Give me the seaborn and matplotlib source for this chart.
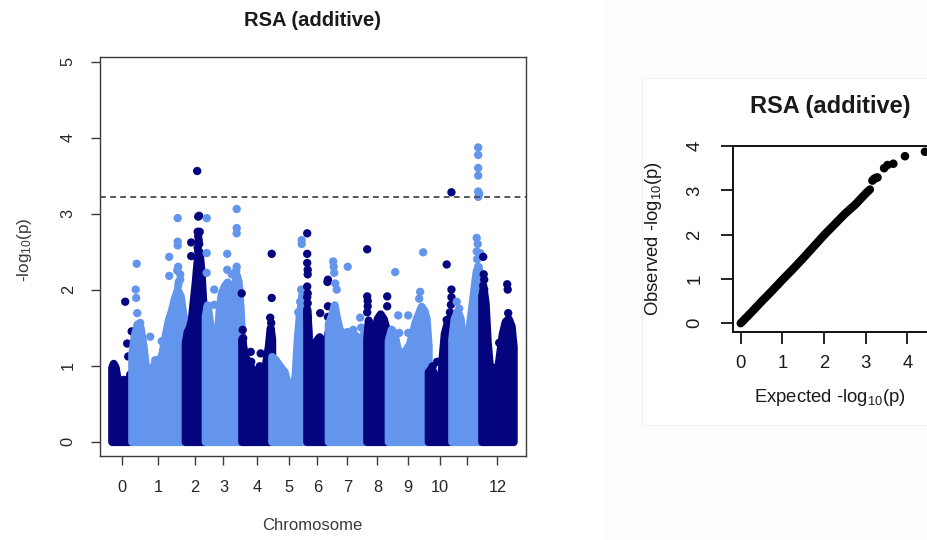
import numpy as np
import pandas as pd
import matplotlib
matplotlib.use("Agg")
import matplotlib.pyplot as plt
from matplotlib.patches import Rectangle
import seaborn as sns

sns.set_theme(style="white")
plt.rcParams["font.family"] = ["Liberation Sans", "DejaVu Sans"]
plt.rcParams["mathtext.fontset"] = "custom"
plt.rcParams["mathtext.rm"] = "Liberation Sans"
plt.rcParams["mathtext.it"] = "Liberation Sans:italic"
plt.rcParams["mathtext.bf"] = "Liberation Sans:bold"

# ---------------------------------------------------------------- data
TITLE = "RSA (additive)"
CHROMOSOMES = list(range(13))
CHROM_LABELS = ["0", "1", "2", "3", "4", "5", "6", "7", "8", "9", "10", "", "12"]
CHROM_LENGTH_MB = [40, 107, 40, 73, 60, 70, 43, 77, 43, 80, 47, 60, 63]
THRESHOLD = 3.22

# upper edge of the dense SNP cloud on each chromosome (position in Mb, -log10 p)
BAND_POS_MB = [
    [0, 3, 7, 11, 15, 19, 23, 27, 31, 35, 40],
    [0, 5, 11, 17, 23, 29, 33, 37, 43, 49, 55, 61, 67, 73, 79, 85, 91, 97, 103, 107],
    [0, 4, 8, 12, 16, 20, 24, 28, 32, 36, 40],
    [0, 4, 8, 12, 16, 20, 24, 28, 32, 38, 44, 50, 56, 62, 66, 70, 73],
    [0, 5, 11, 17, 23, 29, 35, 41, 47, 53, 57, 60],
    [0, 7, 13, 19, 25, 31, 37, 43, 47, 51, 55, 59, 63, 67, 70],
    [0, 3, 6, 9, 12, 15, 19, 25, 31, 37, 41, 43],
    [0, 6, 12, 16, 22, 30, 38, 46, 54, 62, 68, 74, 77],
    [0, 3, 7, 11, 15, 21, 27, 33, 39, 43],
    [0, 6, 12, 18, 24, 30, 36, 42, 48, 54, 60, 66, 72, 76, 80],
    [0, 6, 12, 18, 24, 28, 32, 36, 40, 44, 47],
    [0, 5, 11, 17, 21, 25, 29, 33, 37, 41, 45, 49, 53, 57, 60],
    [0, 3, 7, 11, 15, 21, 27, 33, 37, 41, 47, 53, 59, 63],
]
BAND_LOGP = [
    [0.98, 1.03, 0.98, 0.82, 0.75, 0.8, 0.82, 0.78, 0.82, 0.77, 0.6],
    [1.15, 1.4, 1.55, 1.5, 1.25, 0.9, 0.75, 0.9, 1.0, 1.08, 1.05, 1.18, 1.4, 1.6, 1.72, 1.88, 2.0, 1.92, 1.65, 1.35],
    [1.3, 1.45, 1.5, 1.6, 1.85, 2.1, 2.4, 2.5, 2.2, 1.75, 1.4],
    [1.65, 1.8, 1.6, 1.4, 1.25, 1.2, 1.4, 1.75, 1.95, 2.05, 2.1, 2.0, 1.95, 2.2, 2.1, 1.75, 1.35],
    [1.35, 1.15, 1.05, 1.0, 0.9, 0.85, 1.0, 0.92, 1.0, 1.25, 1.5, 1.35],
    [1.12, 1.08, 1.02, 0.97, 0.92, 0.78, 0.68, 0.65, 0.9, 1.35, 1.65, 1.85, 1.9, 1.65, 1.35],
    [1.75, 1.45, 0.5, 0.35, 0.45, 1.15, 1.33, 1.38, 1.33, 1.28, 1.33, 1.45],
    [1.55, 1.65, 1.8, 1.65, 1.48, 1.42, 1.45, 1.42, 1.4, 1.33, 1.38, 1.48, 1.42],
    [1.35, 1.6, 1.5, 1.22, 1.42, 1.62, 1.68, 1.62, 1.48, 1.38],
    [1.33, 1.48, 1.42, 1.22, 1.18, 1.12, 1.22, 1.28, 1.42, 1.58, 1.68, 1.78, 1.72, 1.62, 1.25],
    [0.92, 0.97, 0.88, 0.82, 0.72, 1.12, 1.42, 1.52, 1.62, 1.58, 1.48],
    [1.35, 1.62, 1.72, 1.62, 1.32, 0.92, 1.12, 1.42, 1.62, 1.82, 2.05, 2.25, 2.3, 2.05, 1.55],
    [1.92, 2.02, 1.82, 1.32, 1.02, 0.97, 0.92, 1.02, 1.22, 1.42, 1.58, 1.62, 1.52, 1.25],
]

# individual SNPs standing above the cloud
SNP_POS_MB = [
    [27, 40, 31, 33, 37],
    [10, 8, 9, 11, 17, 37, 60, 47, 92, 92, 92, 75, 75, 93, 97, 97, 93, 91, 94],
    [24, 28, 26, 25, 29, 12, 12, 26, 28, 27, 25, 26, 28],
    [3, 3, 3, 18, 18, 63, 63, 63, 44, 44, 53, 63, 64, 62],
    [0, 2, 3, 5, 18, 19, 38, 60, 60, 57, 59, 57],
    [60, 60, 61, 57, 53, 59, 62],
    [1, 1, 2, 2, 1, 2, 27, 42.5, 42.5, 42.5, 41.5, 1, 2, 1],
    [10, 11, 12, 14, 17, 39, 50, 64, 66],
    [1, 1, 2, 1, 41, 41, 2],
    [14, 20, 40, 22, 40, 70, 64, 62],
    [9, 18, 37, 37, 46.5, 46.5, 46.5, 45.5, 43.5],
    [53, 53, 53, 53, 53, 55, 53, 50, 50, 57, 53, 10, 15, 51, 52],
    [3, 5, 5, 4, 51, 52, 53, 35, 4, 3],
]
SNP_LOGP = [
    [1.84, 1.45, 1.29, 1.12, 0.88],
    [2.34, 2.0, 1.89, 1.69, 1.56, 1.38, 1.32, 1.07, 2.94, 2.63, 2.58, 2.43, 2.18, 2.3, 2.2, 2.13, 2.05, 2.25, 2.1],
    [3.56, 2.97, 2.96, 2.76, 2.76, 2.62, 2.44, 2.5, 2.4, 2.65, 2.55, 2.7, 2.6],
    [2.94, 2.48, 2.22, 2.0, 1.8, 3.06, 2.81, 2.74, 2.47, 2.26, 2.2, 2.3, 2.15, 2.25],
    [1.95, 1.47, 1.36, 1.16, 1.18, 1.05, 1.16, 2.47, 1.89, 1.63, 1.56, 1.4],
    [2.65, 2.6, 1.91, 1.84, 1.7, 2.0, 1.95],
    [2.74, 2.47, 2.26, 2.2, 2.04, 1.82, 1.69, 2.13, 1.78, 1.64, 2.1, 2.35, 1.95, 1.9],
    [2.37, 2.3, 2.22, 2.08, 2.0, 2.3, 1.47, 1.63, 1.5],
    [2.53, 1.91, 1.85, 1.7, 1.91, 1.78, 1.78],
    [2.23, 1.66, 1.66, 1.43, 1.43, 2.49, 1.97, 1.88],
    [0.99, 1.05, 2.33, 1.6, 3.28, 2.0, 1.9, 1.8, 1.7],
    [3.87, 3.77, 3.6, 3.5, 3.29, 3.26, 3.22, 2.68, 2.5, 2.48, 2.3, 1.84, 1.75, 2.4, 2.6],
    [2.43, 2.13, 2.0, 1.95, 2.07, 2.0, 1.69, 1.3, 2.2, 2.05],
]

# Q-Q plot: dense diagonal and the separated upper tail
QQ_EXPECTED = [0.0, 0.25, 0.5, 0.75, 1.0, 1.25, 1.5, 1.75, 2.0, 2.25, 2.5, 2.75, 3.0, 3.1]
QQ_OBSERVED = [0.0, 0.24, 0.49, 0.73, 0.98, 1.22, 1.47, 1.73, 1.99, 2.23, 2.47, 2.68, 2.93, 3.02]
QQ_TAIL_EXPECTED = [3.16, 3.2, 3.24, 3.28, 3.44, 3.52, 3.66, 3.94, 4.42]
QQ_TAIL_OBSERVED = [3.22, 3.26, 3.28, 3.29, 3.5, 3.57, 3.6, 3.77, 3.87]

# ---------------------------------------------------------------- style
NAVY = "#04047f"
CORNFLOWER = "#6495ed"
AXIS_GREY = "#3a3a3a"
W, H = 927, 540

fig = plt.figure(figsize=(W / 100, H / 100), dpi=100)
fig.patch.set_facecolor("white")

# faint backdrop behind the Q-Q panel
fig.patches.append(Rectangle((603 / W, 0), 1 - 603 / W, 1, transform=fig.transFigure,
                             facecolor="#fdfdfd", edgecolor="none", zorder=-5))
fig.patches.append(Rectangle((642 / W, 1 - 425 / H), 1 - 642 / W, (425 - 78) / H,
                             transform=fig.transFigure, facecolor="white",
                             edgecolor="#f1f1f1", lw=0.8, zorder=-4))

# ---------------------------------------------------------------- Manhattan
ax = fig.add_axes([100 / W, 1 - 456 / H, 426 / W, 399 / H])
offsets = np.concatenate([[0], np.cumsum(CHROM_LENGTH_MB)[:-1]])
centers = offsets + np.asarray(CHROM_LENGTH_MB) / 2

for i, chrom in enumerate(CHROMOSOMES):
    col = NAVY if i % 2 == 0 else CORNFLOWER
    bx = offsets[i] + np.asarray(BAND_POS_MB[i], dtype=float)
    by = np.asarray(BAND_LOGP[i], dtype=float)
    ax.fill_between(bx, 0, by, facecolor=col, edgecolor=col, lw=5.8,
                    joinstyle="round", zorder=2 + i * 0.1)
    snps = pd.DataFrame({
        "pos": offsets[i] + np.asarray(SNP_POS_MB[i], dtype=float),
        "logp": SNP_LOGP[i],
    })
    sns.scatterplot(data=snps, x="pos", y="logp", ax=ax, color=col, s=36,
                    edgecolor="none", linewidth=0, zorder=2.05 + i * 0.1,
                    legend=False)

ax.axhline(THRESHOLD, color="#4a4a4a", lw=1.3, ls=(0, (3.2, 2.4)), zorder=5)

total = float(np.sum(CHROM_LENGTH_MB))
ax.set_xlim(-23.4, total + 25.6)
ax.set_ylim(-0.19, 5.06)
ax.set_xticks(centers)
ax.set_xticklabels(CHROM_LABELS)
ax.set_yticks(range(6))
ax.set_yticklabels([str(v) for v in range(6)])
ax.set_xlabel("")
ax.set_ylabel("")
for sp in ax.spines.values():
    sp.set_visible(True)
    sp.set_color(AXIS_GREY)
    sp.set_linewidth(1.0)
ax.tick_params(axis="both", direction="out", length=6.5, width=1.0, color=AXIS_GREY,
               labelcolor="#262626", labelsize=11.8, pad=11, bottom=True, left=True)
plt.setp(ax.get_yticklabels(), rotation=90, va="center")

fig.text(313 / W, 1 - 20 / H, TITLE, ha="center", va="center",
         fontsize=14.5, fontweight="bold", color="#1a1a1a")
fig.text(312 / W, 1 - 525 / H, "Chromosome", ha="center", va="center",
         fontsize=12, color="#3a3a3a")
fig.text(25 / W, 1 - 250 / H, r"-log$_{\mathregular{10}}$(p)", ha="center",
         va="center", rotation=90, fontsize=12.3, color="#3a3a3a")

# ---------------------------------------------------------------- Q-Q plot
qx = fig.add_axes([733.3 / W, 1 - 331.7 / H, (940 - 733.3) / W, (331.7 - 146) / H])
qq = pd.DataFrame({"expected": QQ_EXPECTED, "observed": QQ_OBSERVED})
tail = pd.DataFrame({"expected": QQ_TAIL_EXPECTED, "observed": QQ_TAIL_OBSERVED})
sns.lineplot(data=qq, x="expected", y="observed", ax=qx, color="black", lw=6,
             estimator=None, sort=False, solid_capstyle="round", zorder=3)
sns.scatterplot(data=tail, x="expected", y="observed", ax=qx, color="black", s=38,
                edgecolor="none", linewidth=0, zorder=4, legend=False)
qx.set_xlim(-0.177, 4.78)
qx.set_ylim(-0.19, 4.0)
qx.set_xticks(range(5))
qx.set_yticks(range(5))
qx.set_xlabel("")
qx.set_ylabel("")
qx.set_facecolor("white")
for sp in qx.spines.values():
    sp.set_visible(True)
    sp.set_color("#111111")
    sp.set_linewidth(1.4)
qx.tick_params(axis="both", direction="out", length=8.5, width=1.3, color="#111111",
               labelcolor="#1a1a1a", labelsize=13.3, bottom=True, left=True)
qx.tick_params(axis="x", pad=8)
qx.tick_params(axis="y", pad=13)
plt.setp(qx.get_yticklabels(), rotation=90, va="center")

fig.text(830 / W, 1 - 106.7 / H, TITLE, ha="center", va="center",
         fontsize=17, fontweight="bold", color="#1a1a1a")
fig.text(830 / W, 1 - 397 / H, r"Expected -log$_{\mathregular{10}}$(p)", ha="center",
         va="center", fontsize=13.3, color="#1a1a1a")
fig.text(653 / W, 1 - 239 / H, r"Observed -log$_{\mathregular{10}}$(p)", ha="center",
         va="center", rotation=90, fontsize=13.3, color="#1a1a1a")

fig.savefig("out.png", dpi=100, facecolor="white")
